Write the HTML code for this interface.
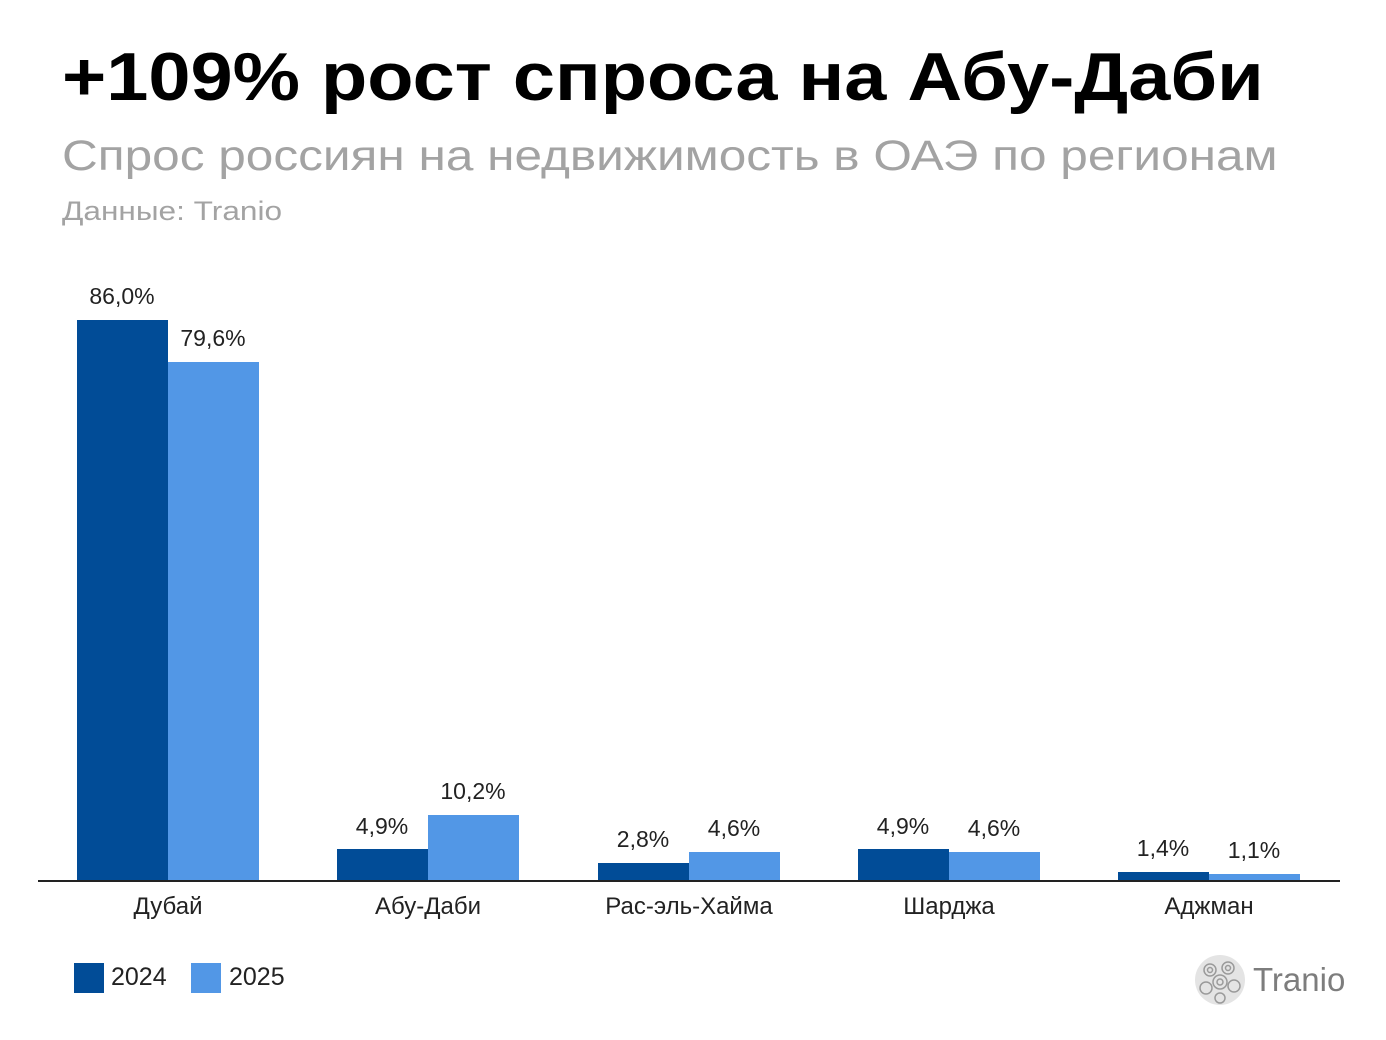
<!DOCTYPE html>
<html><head><meta charset="utf-8"><style>
body{margin:0;width:1386px;height:1040px;background:#fff;position:relative;overflow:hidden;font-family:"Liberation Sans",sans-serif}
.a{position:absolute;white-space:nowrap}
.t{left:62px;top:38px;font-size:68px;font-weight:bold;color:#000;transform-origin:0 0;transform:scaleX(1.114)}
.s{left:62px;top:132px;font-size:43px;color:#a3a3a3;transform-origin:0 0;transform:scaleX(1.152)}
.d{left:62px;top:196px;font-size:27px;color:#a3a3a3;transform-origin:0 0;transform:scaleX(1.17)}
.b{position:absolute;width:91px}
.c1{background:#014c97}.c2{background:#5297e6}
.v{position:absolute;font-size:23px;color:#222;width:120px;text-align:center}
.k{position:absolute;font-size:24px;color:#222;width:260px;text-align:center;top:893px}
</style></head><body>
<div class="a t">+109% рост спроса на Абу-Даби</div>
<div class="a s">Спрос россиян на недвижимость в ОАЭ по регионам</div>
<div class="a d">Данные: Tranio</div>

<div class="b c1" style="left:77px;top:320px;height:561px"></div>
<div class="b c2" style="left:168px;top:362px;height:519px"></div>
<div class="v" style="left:62px;top:283px">86,0%</div>
<div class="v" style="left:153px;top:325px">79,6%</div>

<div class="b c1" style="left:337px;top:849px;height:32px"></div>
<div class="b c2" style="left:428px;top:815px;height:66px"></div>
<div class="v" style="left:322px;top:813px">4,9%</div>
<div class="v" style="left:413px;top:778px">10,2%</div>

<div class="b c1" style="left:598px;top:863px;height:18px"></div>
<div class="b c2" style="left:689px;top:852px;height:29px"></div>
<div class="v" style="left:583px;top:826px">2,8%</div>
<div class="v" style="left:674px;top:815px">4,6%</div>

<div class="b c1" style="left:858px;top:849px;height:32px"></div>
<div class="b c2" style="left:949px;top:852px;height:29px"></div>
<div class="v" style="left:843px;top:813px">4,9%</div>
<div class="v" style="left:934px;top:815px">4,6%</div>

<div class="b c1" style="left:1118px;top:872px;height:9px"></div>
<div class="b c2" style="left:1209px;top:874px;height:7px"></div>
<div class="v" style="left:1103px;top:835px">1,4%</div>
<div class="v" style="left:1194px;top:837px">1,1%</div>

<div style="position:absolute;left:38px;top:880px;width:1302px;height:2px;background:#222"></div>

<div class="k" style="left:38px">Дубай</div>
<div class="k" style="left:298px">Абу-Даби</div>
<div class="k" style="left:559px">Рас-эль-Хайма</div>
<div class="k" style="left:819px">Шарджа</div>
<div class="k" style="left:1079px">Аджман</div>

<div style="position:absolute;left:74px;top:963px;width:30px;height:30px;background:#014c97"></div>
<div class="a" style="left:111px;top:963px;font-size:25px;color:#222">2024</div>
<div style="position:absolute;left:191px;top:963px;width:30px;height:30px;background:#5297e6"></div>
<div class="a" style="left:229px;top:963px;font-size:25px;color:#222">2025</div>

<svg style="position:absolute;left:1194px;top:954px" width="52" height="52" viewBox="0 0 52 52">
<circle cx="26" cy="26" r="25" fill="#e4e4e4"/>
<g fill="none" stroke="#9a9a9a" stroke-width="1.5">
<circle cx="16" cy="16" r="6"/><circle cx="16" cy="16" r="2.5"/>
<circle cx="34" cy="14" r="6"/><circle cx="34" cy="14" r="2.5"/>
<circle cx="26" cy="28" r="7"/><circle cx="26" cy="28" r="3"/>
<circle cx="12" cy="34" r="6"/><circle cx="40" cy="32" r="6"/>
<circle cx="26" cy="44" r="5"/></g></svg>
<div class="a" style="left:1253px;top:961px;font-size:33px;color:#7d7d7d">Tranio</div>
</body></html>
